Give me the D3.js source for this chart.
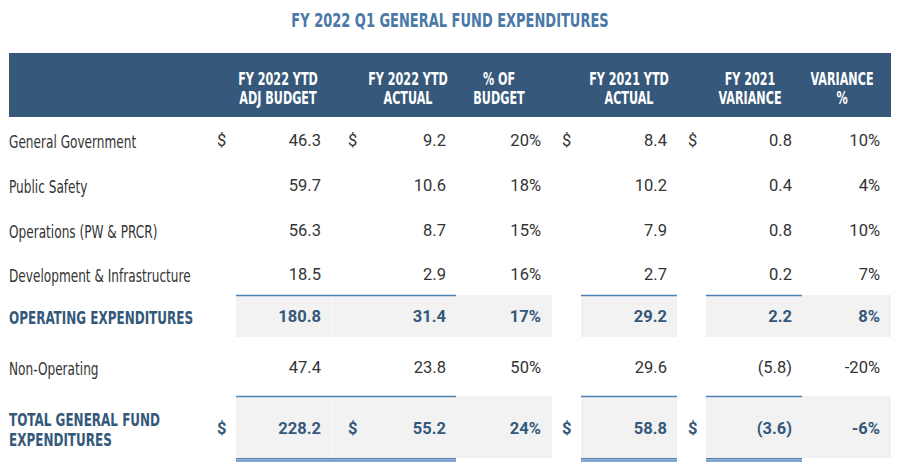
<!DOCTYPE html>
<html>
<head>
<meta charset="utf-8">
<script src="https://cdn.jsdelivr.net/npm/d3@7"></script>
<style>
  html, body { margin: 0; padding: 0; background: #fff; }
  svg { display: block; }
</style>
</head>
<body>
<div id="chart"></div>
<script>
// ---------- DATA ----------
const title = "FY 2022 Q1 GENERAL FUND EXPENDITURES";
const categories = [
  "General Government",
  "Public Safety",
  "Operations (PW & PRCR)",
  "Development & Infrastructure",
  "OPERATING EXPENDITURES",
  "Non-Operating",
  "TOTAL GENERAL FUND EXPENDITURES"
];
const categoryLines = [
  ["General Government"],
  ["Public Safety"],
  ["Operations (PW & PRCR)"],
  ["Development & Infrastructure"],
  ["OPERATING EXPENDITURES"],
  ["Non-Operating"],
  ["TOTAL GENERAL FUND", "EXPENDITURES"]
];
const subtotalRows = ["OPERATING EXPENDITURES", "TOTAL GENERAL FUND EXPENDITURES"];
const dollarRows = ["General Government", "TOTAL GENERAL FUND EXPENDITURES"];

const columns = ["budget22", "actual22", "pctBudget", "actual21", "variance21", "variancePct"];
const headerLines = [
  ["FY 2022 YTD", "ADJ BUDGET"],
  ["FY 2022 YTD", "ACTUAL"],
  ["% OF", "BUDGET"],
  ["FY 2021 YTD", "ACTUAL"],
  ["FY 2021", "VARIANCE"],
  ["VARIANCE", "%"]
];
const dollarColumns = ["budget22", "actual22", "actual21", "variance21"];
const underlinedColumns = ["budget22", "actual22", "actual21", "variance21"];

const budget22    = [46.3, 59.7, 56.3, 18.5, 180.8, 47.4, 228.2];
const actual22    = [9.2, 10.6, 8.7, 2.9, 31.4, 23.8, 55.2];
const pctBudget   = [20, 18, 15, 16, 17, 50, 24];
const actual21    = [8.4, 10.2, 7.9, 2.7, 29.2, 29.6, 58.8];
const variance21  = [0.8, 0.4, 0.8, 0.2, 2.2, -5.8, -3.6];
const variancePct = [10, 4, 10, 7, 8, -20, -6];

const seriesValues = { budget22, actual22, pctBudget, actual21, variance21, variancePct };

// ---------- LAYOUT ----------
const W = 900, H = 474;
const C = {
  title: "#4a78a7",
  header: "#36597b",
  text: "#333333",
  bold: "#34587a",
  shade: "#f2f2f2",
  line: "#4e80b6",
  line2: "#9bb6d6"
};
const condensed = "'DejaVu Sans Condensed', 'DejaVu Sans', sans-serif";
const numFont = "Roboto, 'Liberation Sans', sans-serif";

// squeeze a text horizontally to mimic a narrow display face
function condense(sel, factor) {
  sel.each(function() {
    const w = this.getComputedTextLength();
    d3.select(this)
      .attr("textLength", (w * factor).toFixed(2))
      .attr("lengthAdjust", "spacingAndGlyphs");
  });
}

const rowY = d3.scaleOrdinal().domain(categories).range([140, 185, 230, 274, 316, 367, 428]);
const shadeTop = d3.scaleOrdinal().domain(subtotalRows).range([21, 32]);
const shadeBottom = d3.scaleOrdinal().domain(subtotalRows).range([21, 30]);
const valueRight = d3.scaleOrdinal().domain(columns).range([321, 446, 541, 667, 792, 880]);
const headerX = d3.scaleOrdinal().domain(columns).range([278, 408, 499, 629, 750, 842]);
const dollarX = d3.scaleOrdinal().domain(dollarColumns).range([217, 348, 562, 688]);
const cellX0 = d3.scaleOrdinal().domain(columns).range([236, 332, 456, 581, 706, 802]);
const cellX1 = d3.scaleOrdinal().domain(columns).range([332, 456, 552, 677, 802, 891]);

const fmtNum = d3.format(".1f");
function fmtValue(col, v) {
  if (col === "pctBudget" || col === "variancePct") return (v < 0 ? "-" : "") + Math.abs(v) + "%";
  if (v < 0) return "(" + fmtNum(-v) + ")";
  return fmtNum(v);
}

const svg = d3.select("#chart").append("svg")
  .attr("width", W).attr("height", H)
  .attr("viewBox", `0 0 ${W} ${H}`);

// Title
svg.append("text")
  .attr("x", W / 2).attr("y", 27)
  .attr("text-anchor", "middle")
  .style("font-family", condensed)
  .style("font-size", "19px")
  .style("font-weight", "bold")
  .style("fill", C.title)
  .text(title)
  .call(condense, 0.76);

// Header band
svg.append("rect")
  .attr("x", 9).attr("y", 53)
  .attr("width", 882).attr("height", 64)
  .attr("fill", C.header);

const hdrG = svg.append("g");
columns.forEach((col, i) => {
  hdrG.selectAll(null)
    .data(headerLines[i])
    .join("text")
    .attr("x", headerX(col))
    .attr("y", (d, j) => 85 + j * 19)
    .attr("text-anchor", "middle")
    .style("font-family", condensed)
    .style("font-size", "17.5px")
    .style("font-weight", "bold")
    .style("fill", "#ffffff")
    .text(d => d)
    .call(condense, 0.71);
});

// Shading for subtotal rows
const shadeG = svg.append("g");
subtotalRows.forEach(row => {
  const y0 = rowY(row) - shadeTop(row), y1 = rowY(row) + shadeBottom(row);
  shadeG.selectAll(null)
    .data(columns)
    .join("rect")
    .attr("x", c => cellX0(c))
    .attr("y", y0)
    .attr("width", c => cellX1(c) - cellX0(c))
    .attr("height", y1 - y0)
    .attr("fill", C.shade);
  shadeG.selectAll(null)
    .data(["actual22"])
    .join("line")
    .attr("x1", c => cellX0(c) + 0.5).attr("x2", c => cellX0(c) + 0.5)
    .attr("y1", y0).attr("y2", y1)
    .attr("stroke", "#fafafa").attr("stroke-width", 1);
  shadeG.selectAll(null)
    .data(underlinedColumns)
    .join("line")
    .attr("x1", c => cellX0(c)).attr("x2", c => cellX1(c))
    .attr("y1", y0 + 0.5).attr("y2", y0 + 0.5)
    .attr("stroke", C.line).attr("stroke-width", 1.5);
});
// double rule under total
{
  const row = subtotalRows[1];
  const yb = rowY(row) + shadeBottom(row);
  shadeG.selectAll(null)
    .data(underlinedColumns)
    .join("rect")
    .attr("x", c => cellX0(c))
    .attr("y", yb)
    .attr("width", c => cellX1(c) - cellX0(c))
    .attr("height", 3.5)
    .attr("fill", C.line2);
  shadeG.selectAll(null)
    .data(underlinedColumns)
    .join("line")
    .attr("x1", c => cellX0(c)).attr("x2", c => cellX1(c))
    .attr("y1", yb + 0.5).attr("y2", yb + 0.5)
    .attr("stroke", C.line).attr("stroke-width", 1);
  shadeG.selectAll(null)
    .data(underlinedColumns)
    .join("line")
    .attr("x1", c => cellX0(c)).attr("x2", c => cellX1(c))
    .attr("y1", yb + 3).attr("y2", yb + 3)
    .attr("stroke", C.line).attr("stroke-width", 1);
}

// Rows
const rowsG = svg.append("g");
categories.forEach((cat, i) => {
  const isSub = subtotalRows.includes(cat);
  const lines = categoryLines[i];
  rowsG.selectAll(null)
    .data(lines)
    .join("text")
    .attr("x", 9)
    .attr("y", (d, j) => rowY(cat) + 8 - (lines.length - 1) * 10 + j * 20)
    .style("font-family", condensed)
    .style("font-size", isSub ? "18px" : "17.5px")
    .style("font-weight", isSub ? "bold" : "normal")
    .style("fill", isSub ? C.bold : C.text)
    .text(d => d)
    .call(condense, isSub ? 0.74 : 0.77);

  rowsG.selectAll(null)
    .data(columns)
    .join("text")
    .attr("x", c => valueRight(c))
    .attr("y", rowY(cat) + 6)
    .attr("text-anchor", "end")
    .style("font-family", numFont)
    .style("font-size", "16.5px")
    .style("font-weight", isSub ? "bold" : "normal")
    .style("fill", isSub ? C.bold : C.text)
    .text(c => fmtValue(c, seriesValues[c][i]));

  if (dollarRows.includes(cat)) {
    rowsG.selectAll(null)
      .data(dollarColumns)
      .join("text")
      .attr("x", c => dollarX(c))
      .attr("y", rowY(cat) + 6)
      .style("font-family", numFont)
      .style("font-size", "16.5px")
      .style("font-weight", isSub ? "bold" : "normal")
      .style("fill", isSub ? C.bold : C.text)
      .text("$");
  }
});
</script>
</body>
</html>
